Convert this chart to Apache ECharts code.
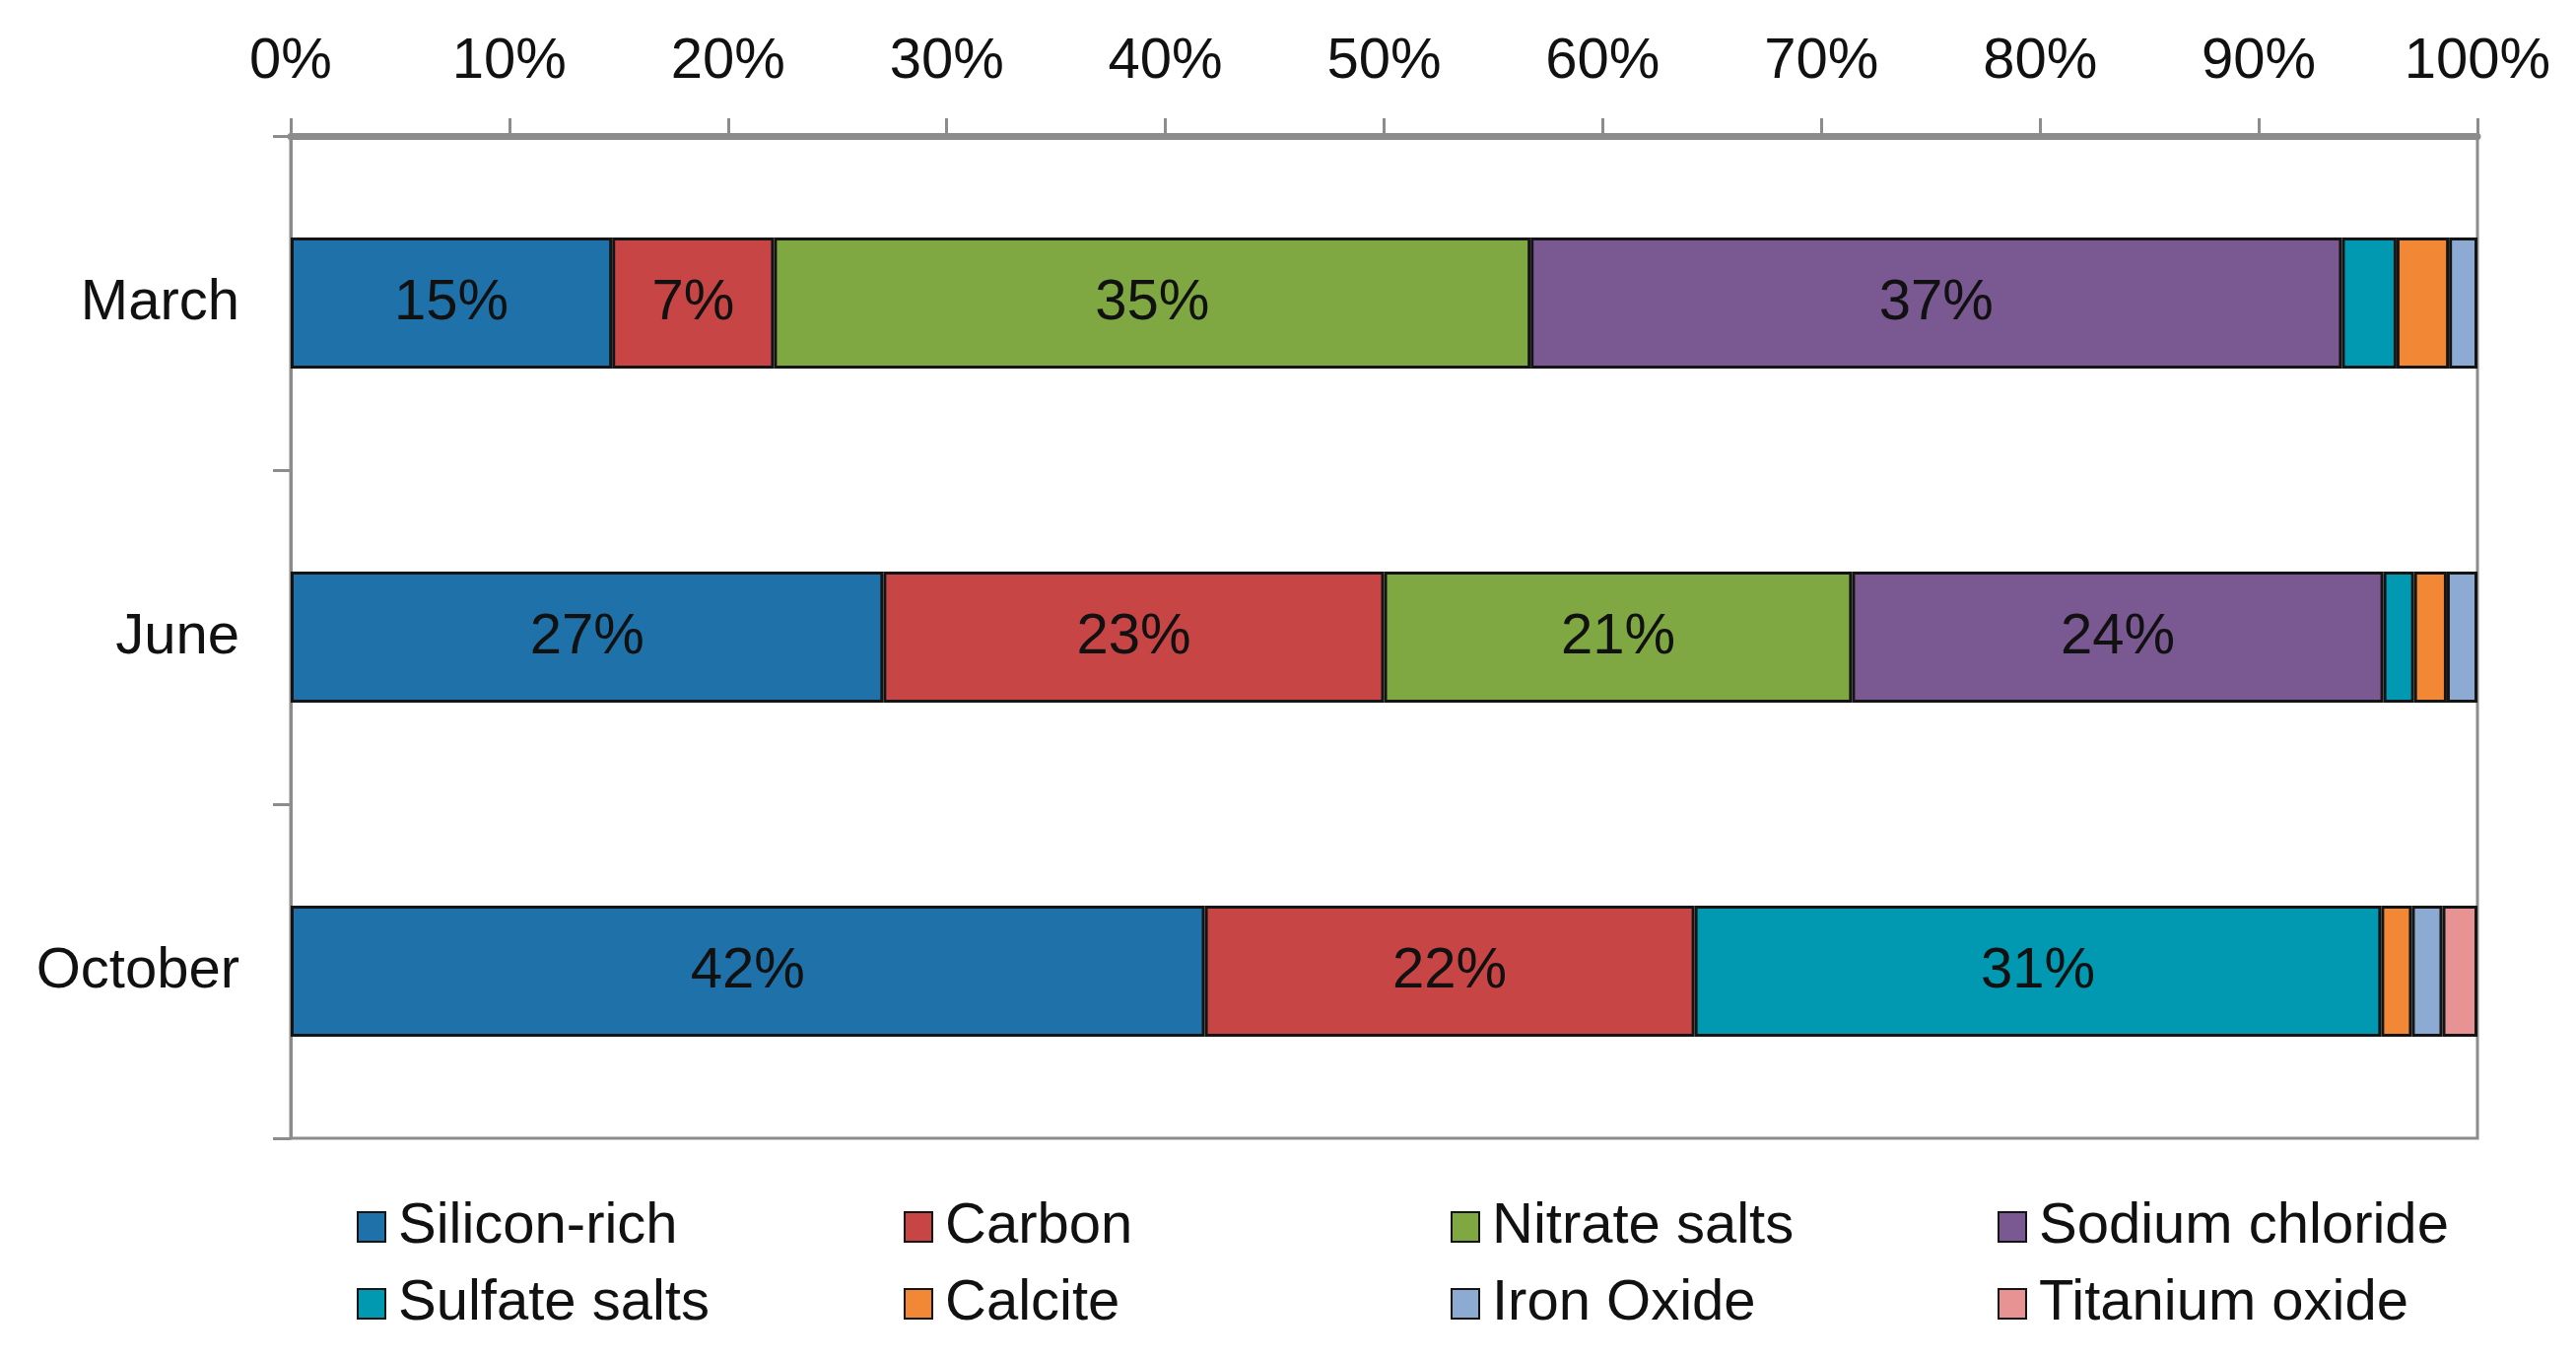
<!DOCTYPE html>
<html>
<head>
<meta charset="utf-8">
<script src="https://cdn.jsdelivr.net/npm/echarts@6/dist/echarts.min.js"></script>
<style>html,body{margin:0;padding:0;background:#fff;}#c{width:2614px;height:1379px;}</style>
</head>
<body>
<div id="c"></div>
<script>
const categories = ['March', 'June', 'October'];
const tickLabels = ['0%','10%','20%','30%','40%','50%','60%','70%','80%','90%','100%'];
const seriesNames = ['Silicon-rich','Carbon','Nitrate salts','Sodium chloride','Sulfate salts','Calcite','Iron Oxide','Titanium oxide'];
const siliconRich    = [14.7, 27.1, 41.8];
const carbon         = [7.4, 22.9, 22.4];
const nitrateSalts   = [34.6, 21.4, 0];
const sodiumChloride = [37.1, 24.3, 0];
const sulfateSalts   = [2.5, 1.4, 31.4];
const calcite        = [2.4, 1.5, 1.4];
const ironOxide      = [1.3, 1.4, 1.4];
const titaniumOxide  = [0, 0, 1.6];
const colors = ['#1f71a9','#c84545','#7fa843','#7a5891','#0099b1','#f28835','#8daad3','#e79394'];

const values = [siliconRich, carbon, nitrateSalts, sodiumChloride, sulfateSalts, calcite, ironOxide, titaniumOxide];
const FONT = 'Liberation Sans, Arial, sans-serif';

const chart = echarts.init(document.getElementById('c'), null, {renderer: 'canvas'});
const series = seriesNames.map((name, i) => ({
  name: name,
  type: 'bar',
  stack: 'total',
  barWidth: 133,
  data: values[i].map(v => v === 0 ? null : v),
  itemStyle: {color: colors[i], borderColor: '#141414', borderWidth: 3},
  label: {
    show: true,
    position: 'inside',
    fontFamily: FONT,
    fontSize: 58,
    color: '#111',
    formatter: p => (p.value >= 5 ? Math.round(p.value) + '%' : '')
  },
  emphasis: {disabled: true}
}));

// one legend per item, laid out in a 4-column grid
const legends = seriesNames.map((name, i) => ({
  data: [name],
  left: 362 + (i % 4) * 555,
  top: 1216 + Math.floor(i / 4) * 78,
  itemWidth: 28,
  itemHeight: 30,
  itemGap: 0,
  icon: 'rect',
  selectedMode: false,
  padding: 0,
  textStyle: {fontFamily: FONT, fontSize: 58, color: '#111', padding: [0, 0, 0, 8]}
}));

chart.setOption({
  backgroundColor: '#ffffff',
  animation: false,
  grid: {left: 295, right: 100, top: 138, bottom: 224, show: true, borderColor: '#8c8c8c', borderWidth: 3, backgroundColor: 'transparent'},
  xAxis: {
    type: 'value',
    position: 'top',
    min: 0, max: 100, interval: 10,
    axisLine: {show: true, lineStyle: {color: '#8c8c8c', width: 7}},
    axisTick: {show: true, length: 18, lineStyle: {color: '#8c8c8c', width: 3}},
    splitLine: {show: false},
    axisLabel: {
      margin: 46,
      fontFamily: FONT, fontSize: 58, color: '#111',
      formatter: v => tickLabels[Math.round(v / 10)]
    }
  },
  yAxis: {
    type: 'category',
    data: categories,
    inverse: true,
    axisLine: {show: true, lineStyle: {color: '#8c8c8c', width: 3}},
    axisTick: {show: true, length: 18, lineStyle: {color: '#8c8c8c', width: 3}},
    axisLabel: {margin: 52, fontFamily: FONT, fontSize: 58, color: '#111'}
  },
  legend: legends,
  series: series
});
</script>
</body>
</html>
